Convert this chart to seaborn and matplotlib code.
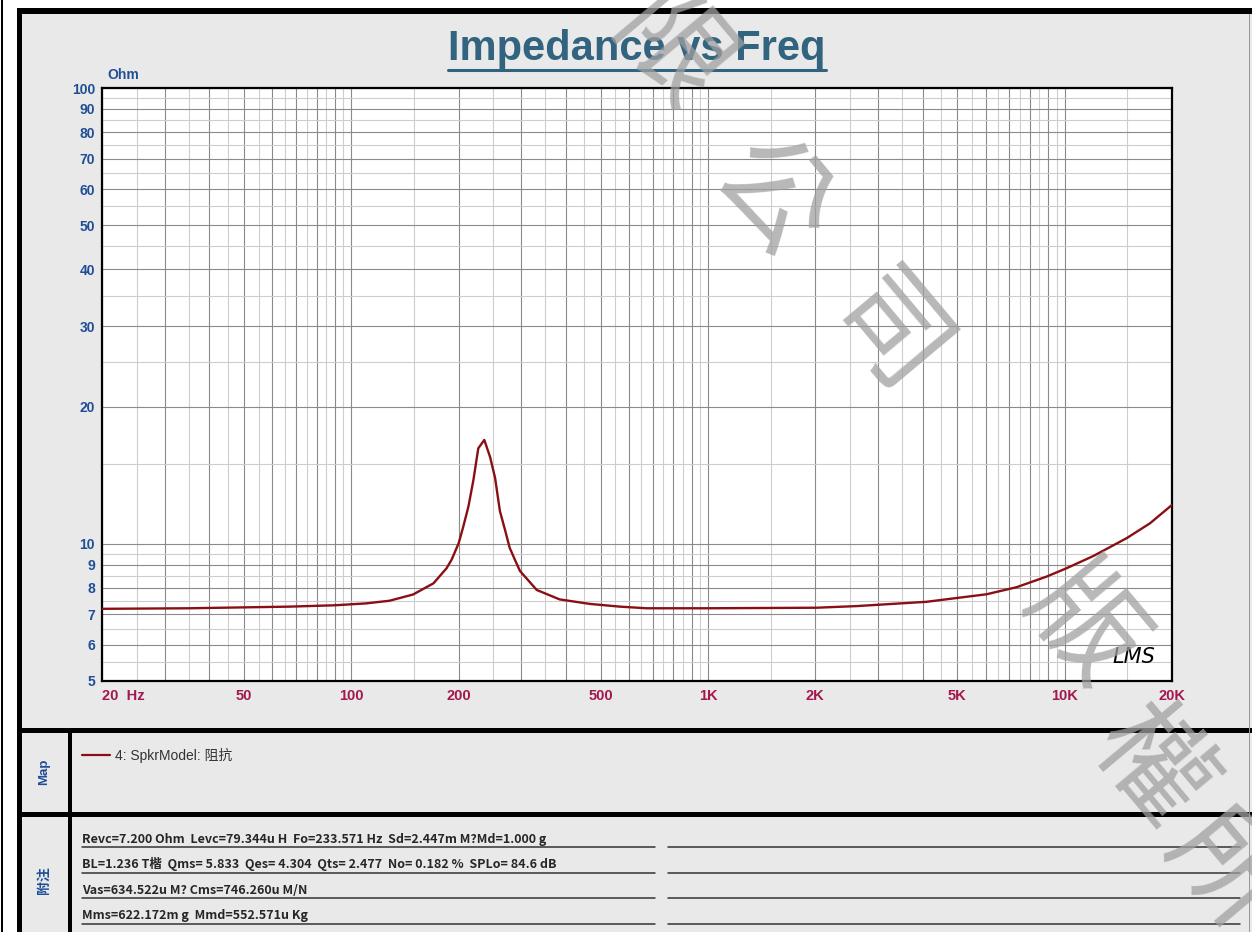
import matplotlib
matplotlib.use("Agg")
import matplotlib.pyplot as plt
import matplotlib.ticker as mticker
from matplotlib.patches import Rectangle
from matplotlib.lines import Line2D
import pandas as pd
import seaborn as sns

# impedance curve
freq_hz = [20, 35, 67, 90, 110, 128, 149, 170, 185, 191, 200, 206, 213, 220, 227,
           236, 245, 253, 261, 270, 278, 288, 297, 331, 384, 467, 566, 673, 1000, 2016,
           2612, 3100, 4100, 6044, 7330, 8890, 10130, 12030, 14930, 17350, 20000]
impedance_ohm = [7.20, 7.22, 7.28, 7.33, 7.40, 7.50, 7.74, 8.19, 8.84, 9.22, 10.03, 10.9,
                 12.07, 13.81, 16.2, 16.9, 15.5, 13.95, 11.8, 10.7, 9.8, 9.2, 8.72, 7.92,
                 7.55, 7.38, 7.28, 7.22, 7.22, 7.24, 7.30, 7.36, 7.46, 7.75, 8.03, 8.47,
                 8.84, 9.40, 10.29, 11.09, 12.17]

# axis ticks / grid
x_dark = [20, 30, 40, 50, 60, 70, 80, 90, 100, 200, 300, 400, 500, 600, 700, 800, 900,
          1000, 2000, 3000, 4000, 5000, 6000, 7000, 8000, 9000, 10000, 20000]
x_light = [25, 35, 45, 55, 65, 75, 85, 95, 150, 250, 350, 450, 550, 650, 750, 850, 950,
           1500, 2500, 3500, 4500, 5500, 6500, 7500, 8500, 9500, 15000]
x_label_pos = [20, 50, 100, 200, 500, 1000, 2000, 5000, 10000, 20000]
x_label_text = ["20  Hz", "50", "100", "200", "500", "1K", "2K", "5K", "10K", "20K"]
y_dark = [5, 6, 7, 8, 9, 10, 20, 30, 40, 50, 60, 70, 80, 90, 100]
y_light = [5.5, 6.5, 7.5, 8.5, 9.5, 15, 25, 35, 45, 55, 65, 75, 85, 95]

legend_text = "4: SpkrModel: 阻抗"
notes = [
    "Revc=7.200 Ohm  Levc=79.344u H  Fo=233.571 Hz  Sd=2.447m M?Md=1.000 g",
    "BL=1.236 T楷  Qms= 5.833  Qes= 4.304  Qts= 2.477  No= 0.182 %  SPLo= 84.6 dB",
    "Vas=634.522u M? Cms=746.260u M/N",
    "Mms=622.172m g  Mmd=552.571u Kg",
]
watermark = ["限", "公", "司", "版", "權", "所"]
watermark_xy = [(668, 55), (770, 200), (886, 338), (1082, 628), (1150, 768), (1225, 872)]

sns.set_style("white")
plt.rcParams["font.family"] = ["Liberation Sans", "Noto Sans CJK SC", "DejaVu Sans"]

W, H = 1252, 932
fig = plt.figure(figsize=(W / 100, H / 100), dpi=100)
fig.patch.set_facecolor("white")


def fx(x):
    return x / W


def fy(y):
    return 1 - y / H


def box(x0, y0, x1, y1, color, z=0):
    fig.add_artist(Rectangle((fx(x0), fy(y1)), fx(x1) - fx(x0), fy(y0) - fy(y1),
                             transform=fig.transFigure, facecolor=color,
                             edgecolor="none", zorder=z))


# frame and panels
box(22, 14, W, H, "#e9e9e9")
box(1, 0, 3, H, "black", 1)
box(17, 8, 22, H, "black", 1)
box(17, 8, W, 14, "black", 1)
box(17, 728, W, 733, "black", 1)
box(17, 812, W, 817, "black", 1)
box(68, 733, 72, H, "black", 1)
box(W - 3, 14, W - 2, H, "#9a9a9a", 1)

# chart
ax = fig.add_axes([fx(102), fy(681), fx(1172) - fx(102), fy(88) - fy(681)])
ax.set_facecolor("white")
df = pd.DataFrame({"freq": freq_hz, "ohm": impedance_ohm})
sns.lineplot(data=df, x="freq", y="ohm", ax=ax, color="#8a0f14", linewidth=1.7,
             legend=False, zorder=3)
ax.set_xscale("log")
ax.set_yscale("log")
ax.set_xlim(20, 20000)
ax.set_ylim(5, 100)

xl = dict(zip(x_label_pos, x_label_text))
ax.set_xticks(x_dark, [xl.get(v, "") for v in x_dark])
ax.set_xticks(x_light, minor=True)
ax.set_yticks(y_dark, [str(v) for v in y_dark])
ax.set_yticks(y_light, minor=True)
ax.xaxis.set_minor_formatter(mticker.NullFormatter())
ax.yaxis.set_minor_formatter(mticker.NullFormatter())
ax.tick_params(which="both", length=0)
ax.tick_params(axis="x", pad=6, labelcolor="#a3174e", labelsize=10.5)
ax.tick_params(axis="y", pad=5, labelcolor="#1f4e96", labelsize=10)
for lab in ax.get_xticklabels() + ax.get_yticklabels():
    lab.set_fontweight("bold")
ax.get_xticklabels()[0].set_horizontalalignment("left")
ax.set_xlabel("")
ax.set_ylabel("")
ax.grid(which="major", color="#8a8a8a", linewidth=0.8)
ax.grid(which="minor", color="#cdcdcd", linewidth=0.8)
ax.set_axisbelow(True)
for s in ax.spines.values():
    s.set_color("black")
    s.set_linewidth(1.6)

fig.text(fx(107), fy(75), "Ohm", color="#1f4e96", fontsize=10, fontweight="bold",
         va="center", ha="left")
title = fig.text(fx(637), fy(49), "Impedance vs Freq", color="#32647f", fontsize=30,
                 fontweight="bold", ha="center", va="center")
fig.text(fx(1134), fy(657), "LMS", fontsize=15, style="italic", color="black",
         ha="center", va="center", family="DejaVu Sans")

# map section
fig.add_artist(Line2D([fx(82), fx(110)], [fy(755), fy(755)], color="#8a0f14", lw=1.6,
                      transform=fig.transFigure))
fig.text(fx(115), fy(755), legend_text, fontsize=10, color="#333333", va="center")
fig.text(fx(44), fy(772), "Map", rotation=90, fontsize=9.5, fontweight="bold",
         color="#1f4e96", ha="center", va="center")

# notes section
fig.text(fx(44), fy(880), "附注", rotation=90, fontsize=10, fontweight="bold",
         color="#1f4e96", ha="center", va="center")
for i, line in enumerate(notes):
    yy = 847 + i * 25.5
    fig.text(fx(82), fy(yy - 1.5), line, fontsize=9, fontweight="bold", color="#262626",
             va="bottom",
             family=["Liberation Sans Narrow", "Noto Sans CJK SC", "DejaVu Sans"])
    for a, b in [(82, 655), (668, 1240)]:
        fig.add_artist(Line2D([fx(a), fx(b)], [fy(yy), fy(yy)], color="#333333", lw=1.1,
                              transform=fig.transFigure))

# watermark
for ch, (x, y) in zip(watermark, watermark_xy):
    fig.text(fx(x), fy(y), ch, fontsize=82, rotation=-50, color="#a0a0a0", alpha=0.75,
             ha="center", va="center", family=["Noto Sans CJK TC"], zorder=10)

# title underline
fig.canvas.draw()
bb = title.get_window_extent()
fig.add_artist(Line2D([bb.x0 / W, bb.x1 / W], [fy(70), fy(70)], color="#32647f", lw=2.2,
                      transform=fig.transFigure))

fig.savefig("out.png", dpi=100)
